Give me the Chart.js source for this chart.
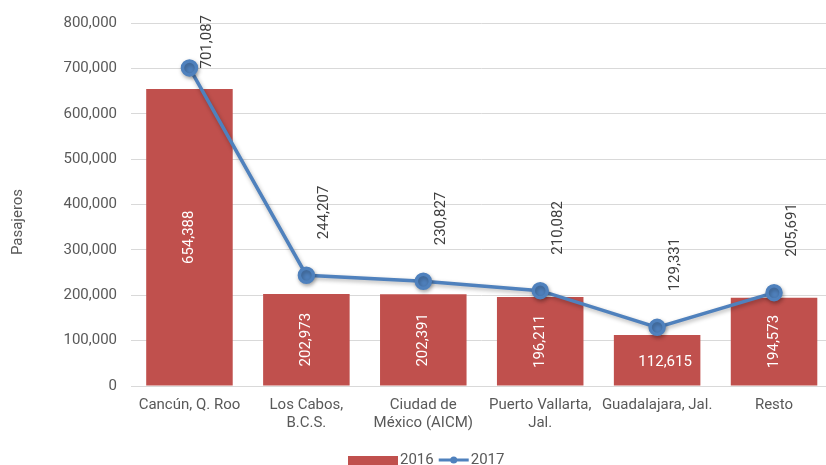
<!DOCTYPE html>
<html lang="es">
<head>
  <meta charset="UTF-8">
  <title>Pasajeros 2016 - 2017</title>
  <style>
    body { margin: 0; padding: 0; background: #fff; overflow: hidden; }
    #wrap { width: 843px; height: 465px; position: relative; }
  </style>
</head>
<body>
  <div id="wrap"><canvas id="chart"></canvas></div>

  <script src="https://cdn.jsdelivr.net/npm/chart.js"></script>
  <script>
    // data
    const categories = [
      ['Cancún, Q. Roo'],
      ['Los Cabos,', 'B.C.S.'],
      ['Ciudad de', 'México (AICM)'],
      ['Puerto Vallarta,', 'Jal.'],
      ['Guadalajara, Jal.'],
      ['Resto']
    ];
    const pasajeros2016 = [654388, 202973, 202391, 196211, 112615, 194573];
    const pasajeros2017 = [701087, 244207, 230827, 210082, 129331, 205691];
    const seriesNames = ['2016', '2017'];
    const yTitle = 'Pasajeros';

    const red = '#C0504D';
    const blue = '#4F81BD';
    const textGray = '#595959';
    const fontFamily = 'Roboto, "Liberation Sans", sans-serif';
    const fontSize = 15;

    const fmt = v => v.toLocaleString('en-US');

    // value labels: inside bars (white, rotated) and above line points
    const valueLabels = {
      id: 'valueLabels',
      afterDatasetsDraw(chart) {
        const ctx = chart.ctx;
        ctx.save();
        ctx.font = fontSize + 'px ' + fontFamily;

        // bars
        const barMeta = chart.getDatasetMeta(0);
        barMeta.data.forEach((bar, i) => {
          const txt = fmt(pasajeros2016[i]);
          const w = ctx.measureText(txt).width;
          const h = bar.base - bar.y;
          const cy = bar.y + h / 2;
          ctx.fillStyle = '#fff';
          ctx.textBaseline = 'middle';
          ctx.textAlign = 'center';
          if (w + 8 < h) {
            ctx.save();
            ctx.translate(bar.x, cy);
            ctx.rotate(-Math.PI / 2);
            ctx.fillText(txt, 0, 0);
            ctx.restore();
          } else {
            ctx.fillText(txt, bar.x + 8, cy + 2);
          }
        });

        // line points
        const lineMeta = chart.getDatasetMeta(1);
        lineMeta.data.forEach((pt, i) => {
          const txt = fmt(pasajeros2017[i]);
          const w = ctx.measureText(txt).width;
          let bottom = pt.y - 36;
          if (bottom - w < 15) bottom = 15 + w;
          ctx.save();
          ctx.translate(pt.x + 18, bottom);
          ctx.rotate(-Math.PI / 2);
          ctx.fillStyle = '#404040';
          ctx.textAlign = 'left';
          ctx.textBaseline = 'middle';
          ctx.fillText(txt, 0, 0);
          ctx.restore();
        });
        ctx.restore();
      }
    };

    // soft shadow under the line series
    const lineShadow = {
      id: 'lineShadow',
      beforeDatasetDraw(chart, args) {
        if (args.index === 1) {
          const ctx = chart.ctx;
          ctx.save();
          ctx.shadowColor = 'rgba(0,0,0,0.3)';
          ctx.shadowBlur = 4;
          ctx.shadowOffsetX = 1;
          ctx.shadowOffsetY = 2;
        }
      },
      afterDatasetDraw(chart, args) {
        if (args.index === 1) chart.ctx.restore();
      }
    };

    // y title and bottom legend, drawn by hand
    const extras = {
      id: 'extras',
      afterDraw(chart) {
        const ctx = chart.ctx;
        ctx.save();
        ctx.font = fontSize + 'px ' + fontFamily;
        ctx.fillStyle = textGray;

        // axis title
        ctx.save();
        ctx.translate(18, 222);
        ctx.rotate(-Math.PI / 2);
        ctx.textAlign = 'center';
        ctx.textBaseline = 'middle';
        ctx.fillText(yTitle, 0, 0);
        ctx.restore();

        // legend
        const y = 460;
        ctx.textBaseline = 'middle';
        ctx.textAlign = 'left';
        let x = 348;
        ctx.fillStyle = red;
        ctx.fillRect(x, y - 4, 50, 9);
        x += 52;
        ctx.fillStyle = textGray;
        ctx.fillText(seriesNames[0], x, y);
        x += ctx.measureText(seriesNames[0]).width + 5;

        ctx.strokeStyle = blue;
        ctx.lineWidth = 3;
        ctx.beginPath();
        ctx.moveTo(x, y);
        ctx.lineTo(x + 30, y);
        ctx.stroke();
        ctx.fillStyle = blue;
        ctx.beginPath();
        ctx.arc(x + 15, y, 3.5, 0, Math.PI * 2);
        ctx.fill();
        x += 32;
        ctx.fillStyle = textGray;
        ctx.fillText(seriesNames[1], x, y);
        ctx.restore();
      }
    };

    const ctx = document.getElementById('chart').getContext('2d');
    new Chart(ctx, {
      type: 'bar',
      data: {
        labels: categories,
        datasets: [{
          type: 'bar',
          label: seriesNames[0],
          data: pasajeros2016,
          backgroundColor: red,
          barPercentage: 0.74,
          categoryPercentage: 1,
          order: 2
        }, {
          type: 'line',
          label: seriesNames[1],
          data: pasajeros2017,
          borderColor: blue,
          backgroundColor: blue,
          borderWidth: 3.5,
          pointRadius: 7,
          pointHoverRadius: 7,
          pointBackgroundColor: blue,
          pointBorderColor: blue,
          tension: 0,
          order: 1
        }]
      },
      options: {
        responsive: true,
        maintainAspectRatio: false,
        animation: false,
        layout: { padding: { top: 23, right: 6, left: 0, bottom: 0 } },
        plugins: {
          legend: { display: false },
          tooltip: { enabled: false }
        },
        scales: {
          x: {
            grid: { display: false, drawTicks: false },
            border: { color: '#d9d9d9' },
            ticks: {
              color: textGray,
              font: { size: fontSize, family: fontFamily },
              padding: 10,
              maxRotation: 0,
              autoSkip: false
            },
            afterFit(scale) { scale.height = 79; }
          },
          y: {
            min: 0,
            max: 800000,
            grid: { color: '#d9d9d9', drawTicks: false },
            border: { display: false },
            ticks: {
              stepSize: 100000,
              color: textGray,
              padding: 14,
              font: { size: fontSize, family: fontFamily },
              callback: v => fmt(v)
            },
            afterFit(scale) { scale.width = 131; }
          }
        }
      },
      plugins: [lineShadow, valueLabels, extras]
    });
  </script>
</body>
</html>
